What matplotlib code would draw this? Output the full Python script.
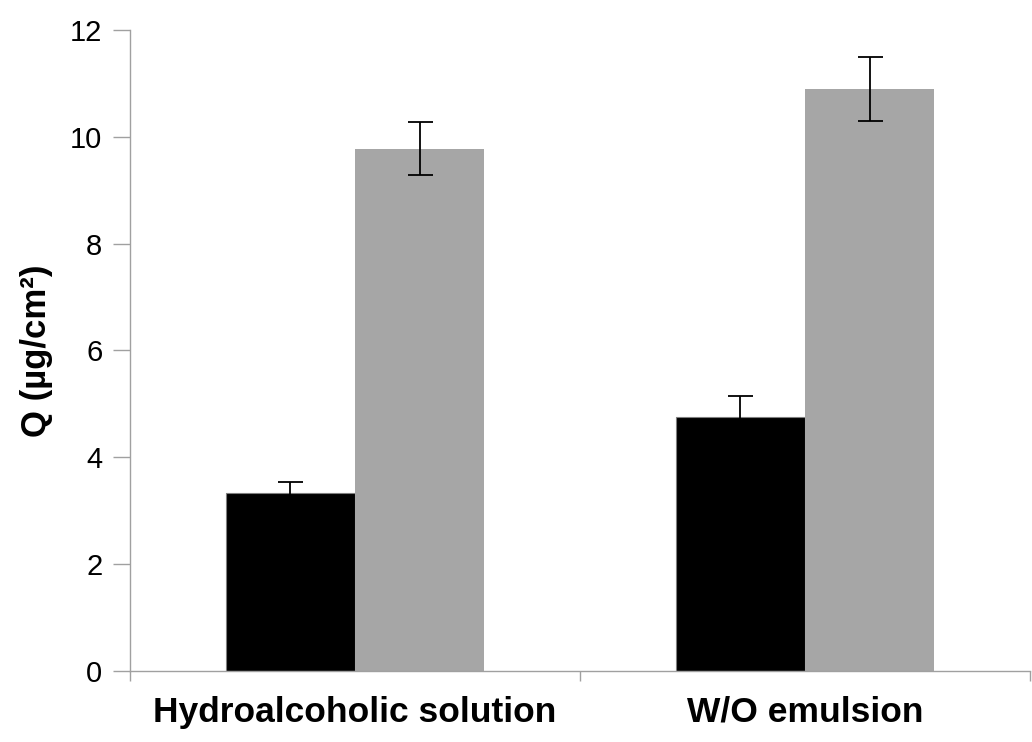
import numpy as np
import matplotlib.pyplot as plt

# Données
categories = ['Hydroalcoholic solution', 'W/O emulsion']
black_vals = [3.34, 4.76]
black_err = [0.20, 0.39]
gray_vals = [9.78, 10.89]
gray_err = [0.49, 0.60]

plt.rcParams['font.family'] = ['Liberation Sans', 'DejaVu Sans']

fig = plt.figure(figsize=(10.32, 7.42), dpi=100)
ax = fig.add_axes([0.126, 0.0957, 0.872, 0.864])

x = np.arange(len(categories))
w = 0.287
err_kw = dict(ecolor='black', elinewidth=1.3, capsize=9, capthick=1.3)
ax.bar(x - w / 2, black_vals, w, yerr=black_err, color='black',
       edgecolor='#7f7f7f', linewidth=0.8, error_kw=err_kw)
ax.bar(x + w / 2, gray_vals, w, yerr=gray_err, color='#a6a6a6',
       edgecolor='#a6a6a6', linewidth=0, error_kw=err_kw)

ax.set_xlim(-0.5, 1.5)
ax.set_ylim(0, 12)
ax.set_yticks(np.arange(0, 13, 2))
ax.set_xticks(x)
ax.set_xticklabels(categories, fontsize=25.5, fontweight='bold')
ax.set_xticks([-0.5, 0.5, 1.5], minor=True)
ax.tick_params(axis='x', which='major', length=0, pad=18)
ax.tick_params(axis='x', which='minor', length=7, color='#a0a0a0', width=1)
ax.tick_params(axis='y', length=12, color='#a0a0a0', width=1, labelsize=21, pad=8)
ax.set_ylabel('Q (\u00b5g/cm\u00b2)', fontsize=25, fontweight='bold', labelpad=12)

for s in ['top', 'right']:
    ax.spines[s].set_visible(False)
for s in ['left', 'bottom']:
    ax.spines[s].set_color('#a0a0a0')
    ax.spines[s].set_linewidth(1)

fig.savefig('out.png', dpi=100)
